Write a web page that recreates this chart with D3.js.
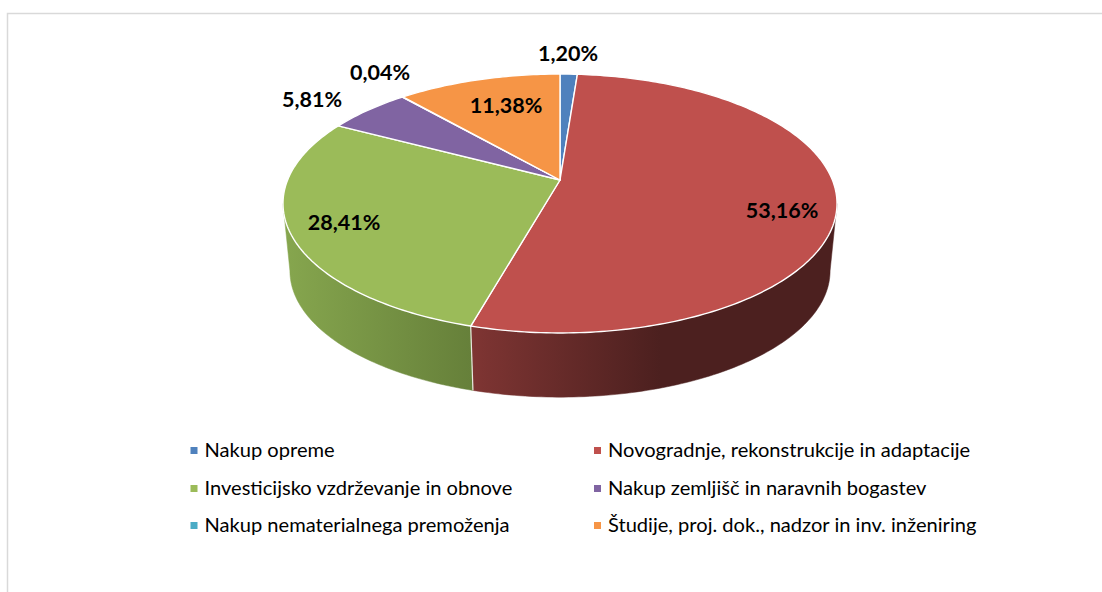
<!DOCTYPE html>
<html>
<head>
<meta charset="utf-8">
<script src="https://cdn.jsdelivr.net/npm/d3@7"></script>
<style>
    html, body { margin: 0; padding: 0; background: #fff; }
    svg { display: block; }
    text { font-family: Lato, "Open Sans", sans-serif; fill: #000; }
</style>
</head>
<body>
<script>
"use strict";
/* chart values */
var categories = [
    "Nakup opreme",
    "Novogradnje, rekonstrukcije in adaptacije",
    "Investicijsko vzdrževanje in obnove",
    "Nakup zemljišč in naravnih bogastev",
    "Nakup nematerialnega premoženja",
    "Študije, proj. dok., nadzor in inv. inženiring"
];
var shares = [1.20, 53.16, 28.41, 5.81, 0.04, 11.38];
var shareLabels = ["1,20%", "53,16%", "28,41%", "5,81%", "0,04%", "11,38%"];
var colors = ["#4f81bd", "#bf504d", "#9bbb59", "#8064a2", "#4bacc6", "#f69546"];

/* label centres and legend layout */
var labelPos = [[568, 53], [782, 210], [344, 222], [312, 99], [380, 72], [506, 105]];
var legendX = [190.5, 594], legendY = [450, 488, 525];

var width = 1102, height = 592;
var svg = d3.select("body").append("svg").attr("width", width).attr("height", height);

/* frame */
svg.append("path").attr("d", "M7.5,592V13.5H1102")
    .attr("fill", "none").attr("stroke", "#d9d9d9").attr("stroke-width", 1.5);

/* perspective of the tilted disc: far edge is shrunk by k */
var k = 0.1815, a = 272.4, b = 125.2;
function project(angle, cx, cy, s) {
    var x = Math.sin(angle), y = Math.cos(angle), d = 1 + k * y;
    return [cx + s * a * x / d, cy - s * b * y / d];
}
var top_ = function (t) { return project(t, 560, 180, 1); };
var base = function (t) { return project(t, 560, 248, 0.975); };

function samples(t0, t1) {
    var n = Math.max(2, Math.ceil(Math.abs(t1 - t0) * 60));
    return d3.range(n + 1).map(function (i) { return t0 + (t1 - t0) * i / n; });
}
var line = d3.line();
var arcs = d3.pie().sort(null).value(function (d) { return d; })(shares);

/* wall, only the part that faces the viewer */
var defs = svg.append("defs");
var wallGrad = [
    {id: "wall1", x1: 471, x2: 660, stops: ["#7f3533", "#4c201f"]},
    {id: "wall2", x1: 285, x2: 471, stops: ["#86a64e", "#66803a"]}
];
wallGrad.forEach(function (g) {
    var lg = defs.append("linearGradient").attr("id", g.id)
        .attr("gradientUnits", "userSpaceOnUse")
        .attr("x1", g.x1).attr("x2", g.x2).attr("y1", 0).attr("y2", 0);
    lg.append("stop").attr("offset", 0).attr("stop-color", g.stops[0]);
    lg.append("stop").attr("offset", 1).attr("stop-color", g.stops[1]);
});
var wallFrom = Math.acos(-k), wallTo = 2 * Math.PI - wallFrom;
[1, 2].forEach(function (i) {
    var t0 = Math.max(arcs[i].startAngle, wallFrom), t1 = Math.min(arcs[i].endAngle, wallTo);
    var ts = samples(t0, t1);
    var pts = ts.map(top_).concat(ts.slice().reverse().map(base));
    svg.append("path").attr("d", line(pts) + "Z")
        .attr("fill", "url(#wall" + i + ")")
        .attr("stroke", "url(#wall" + i + ")").attr("stroke-width", 0.5);
});
/* seam between the two visible walls */
var seam = arcs[1].endAngle;
svg.append("path").attr("d", line([top_(seam), base(seam)]))
    .attr("stroke", "#e8e8e0").attr("stroke-width", 1.2).attr("fill", "none");

/* top faces */
svg.selectAll("path.slice").data(arcs).enter().append("path")
    .attr("class", "slice")
    .attr("d", function (d) {
        return line([[560, 180]].concat(samples(d.startAngle, d.endAngle).map(top_))) + "Z";
    })
    .attr("fill", function (d, i) { return colors[i]; })
    .attr("stroke", "#fff").attr("stroke-width", 1.4).attr("stroke-linejoin", "round");

/* value labels */
svg.selectAll("text.value").data(shareLabels).enter().append("text")
    .attr("class", "value")
    .attr("x", function (d, i) { return labelPos[i][0]; })
    .attr("y", function (d, i) { return labelPos[i][1]; })
    .attr("dy", "0.35em")
    .attr("text-anchor", "middle")
    .style("font-size", "21.5px").style("font-weight", 700)
    .text(function (d) { return d; });

/* legend */
var legend = svg.selectAll("g.legend").data(categories).enter().append("g")
    .attr("class", "legend")
    .attr("transform", function (d, i) {
        return "translate(" + legendX[i % 2] + "," + legendY[Math.floor(i / 2)] + ")";
    });
legend.append("rect").attr("x", 0).attr("y", -3).attr("width", 7).attr("height", 7)
    .attr("fill", function (d, i) { return colors[i]; });
legend.append("text").attr("x", 14).attr("dy", "0.33em")
    .style("font-size", "20.1px")
    .text(function (d) { return d; });
</script>
</body>
</html>
